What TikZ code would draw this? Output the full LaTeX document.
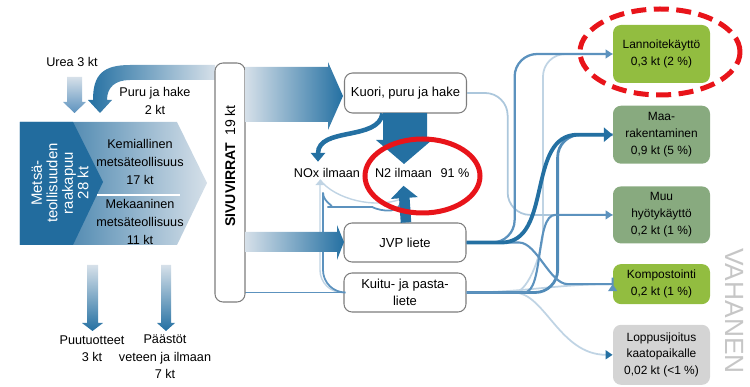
\documentclass[tikz,border=0pt]{standalone}
\usepackage{fontspec}
\setmainfont{Liberation Sans}
\usetikzlibrary{arrows.meta}
\usetikzlibrary{calc}
\usetikzlibrary{positioning}

\definecolor{flowdark}{RGB}{36,112,162}
\definecolor{flowmid}{RGB}{92,146,190}
\definecolor{flowlight}{RGB}{214,224,233}
\definecolor{flowpale}{RGB}{192,212,228}
\definecolor{rawblue}{RGB}{34,108,158}
\definecolor{boxline}{RGB}{125,125,125}
\definecolor{greenlight}{RGB}{146,189,64}
\definecolor{greendark}{RGB}{136,170,127}
\definecolor{boxgray}{RGB}{212,212,212}
\definecolor{markred}{RGB}{232,20,26}

\begin{document}
\begin{tikzpicture}[
    txt/.style={font=\fontsize{7.2}{10}\selectfont, align=center, inner sep=1pt},
    midbox/.style={draw=boxline, line width=0.6pt, rounded corners=0.16cm, fill=white,
        minimum width=2.44cm, minimum height=0.78cm, align=center, font=\fontsize{7.4}{10}\selectfont},
    endbox/.style={rounded corners=0.16cm, minimum width=1.94cm, align=center,
        font=\fontsize{6.8}{9.6}\selectfont, inner sep=1pt},
    thinflow/.style={line width=1pt, rounded corners=0.45cm},
    endtip/.style={-{Triangle[width=5pt,length=4pt]}},
]
    \useasboundingbox (0,0) rectangle (15,-7.74);

    % Middle and right boxes first (flows are drawn behind them)
    \node[midbox, minimum height=0.8cm] (kuori) at (8.11,-1.86) {Kuori, puru ja hake};
    \node[midbox] (jvp) at (8.1,-4.85) {JVP liete};
    \node[midbox] (kuitu) at (8.1,-5.85) {Kuitu- ja pasta-\\liete};

    \node[endbox, fill=greenlight, minimum height=1.16cm] (lannoite) at (13.23,-1.08) {Lannoitekäyttö\\0,3 kt (2 \%)};
    \node[endbox, fill=greendark, minimum height=1.16cm, below=0.44cm of lannoite] (maa) {Maa-\\rakentaminen\\0,9 kt (5 \%)};
    \node[endbox, fill=greendark, minimum height=1.14cm, below=0.44cm of maa] (muu) {Muu\\hyötykäyttö\\0,2 kt (1 \%)};
    \node[endbox, fill=greenlight, minimum height=0.8cm, below=0.4cm of muu] (kompost) {Kompostointi\\0,2 kt (1 \%)};
    \node[endbox, fill=boxgray, minimum height=1.2cm, below=0.4cm of kompost] (loppu) {Loppusijoitus\\kaatopaikalle\\0,02 kt (<1 \%)};

    \node[txt] (nox) at (6.54,-3.46) {NOx ilmaan};
    \node[txt] (ntwo) at (8.07,-3.46) {N2 ilmaan};
    \node[txt] (share) at (9.1,-3.46) {91 \%};
    \coordinate (ntwoin) at (8.02,-3.98);

    % Thin flows to the end uses
    \draw[thinflow, flowpale] (kuitu.east) -- ++(0.5,0) to[out=0,in=-90] (10.86,-4.2) |- (lannoite.west);
    \draw[thinflow, flowpale] (kuitu.east) to[out=0,in=180] (kompost.west);
    \draw[thinflow, flowpale, -{Triangle[width=5pt,length=4pt,color=flowdark]}] (kuitu.east) -- ++(0.5,0) to[out=0,in=180] (loppu.west);
    \draw[thinflow, flowpale!80!flowmid] (kuori.east) -| ([xshift=-2.1cm]muu.west) -- (muu.west);
    \draw[thinflow, flowmid, line width=1.3pt, endtip] (jvp.east) -| ([xshift=-1.96cm]lannoite.west) -- (lannoite.west);
    \draw[thinflow, flowmid!80!flowdark, line width=1.6pt] (kuitu.east) -| ([xshift=-1.1cm]maa.west) -- (maa.west);
    \draw[thinflow, flowmid, line width=1.2pt, endtip] (kuitu.east) -- ++(0.7,0) to[out=0,in=180] ([xshift=-0.7cm]muu.west) -- (muu.west);
    \draw[thinflow, flowmid, line width=1.2pt, endtip] (jvp.east) -- ++(0.6,0) to[out=0,in=180] ([xshift=-0.45cm]kompost.west) -- (kompost.west);
    \draw[flowdark, line width=2.2pt, -{Triangle[width=8pt,length=5pt]}] (jvp.east) -- ++(0.7,0) to[out=0,in=180] ([xshift=-0.7cm]maa.west) -- (maa.west);

    % Thin flows back to the air
    \draw[thinflow, flowpale, line width=0.8pt, -{Triangle[width=5pt,length=3pt]}] (kuitu.west) -| ([xshift=-0.14cm]nox.south);
    \draw[flowpale, line width=0.8pt] (ntwoin) .. controls +(-0.5,-0.2) and +(0.3,-0.4) .. ([xshift=-0.14cm]nox.south);
    \draw[thinflow, flowmid, line width=1pt] (kuitu.west) -| (6.46,-4.3) to[out=90,in=180] (7.0,-4.14) to[out=0,in=-90] (ntwoin);
    \draw[flowmid, line width=1pt] (4.9,-5.85) -- (kuitu.west);

    % Raw wood chevron
    \shade[left color=rawblue, right color=flowlight] (0.4,-2.44) -- (3.54,-2.44) -- (4.14,-3.66) -- (3.54,-4.9) -- (0.4,-4.9) -- cycle;
    \fill[rawblue] (0.4,-2.44) -- (1.46,-2.44) -- (2.06,-3.64) -- (1.46,-4.9) -- (0.4,-4.9) -- cycle;
    \draw[white, line width=1pt] (1.94,-3.9) -- (3.6,-3.9);
    \node[txt, white, rotate=90, font=\fontsize{8.5}{8.8}\selectfont] (raw) at (1.2,-3.66) {Metsä-\\teollisuuden\\raakapuu\\28 kt};
    \node[txt] (chem) at (2.8,-3.24) {Kemiallinen\\metsäteollisuus\\17 kt};
    \node[txt] (mech) at (2.8,-4.44) {Mekaaninen\\metsäteollisuus\\11 kt};

    % Inputs: urea and recycled bark
    \node[txt] (urea) at (1.44,-1.24) {Urea 3 kt};
    \shade[top color=flowlight, bottom color=flowmid] (1.34,-1.54) -- (1.64,-1.54) -- (1.64,-2.04) -- (1.72,-2.04) -- (1.49,-2.26) -- (1.26,-2.04) -- (1.34,-2.04) -- cycle;
    \shade[left color=flowdark, right color=flowlight] (4.3,-1.3) -- (2.6,-1.3) .. controls (2.05,-1.3) and (1.86,-1.5) .. (1.86,-2.0) -- (1.76,-2.0) -- (2.0,-2.26) -- (2.24,-2.0) -- (2.14,-2.0) .. controls (2.14,-1.75) and (2.3,-1.6) .. (2.6,-1.6) -- (4.3,-1.6) -- cycle;
    \node[txt] (puru) at (3.1,-2.02) {Puru ja hake\\2 kt};

    % Outputs of the mills
    \shade[top color=flowlight, bottom color=flowdark] (1.74,-5.3) -- (1.96,-5.3) -- (1.96,-6.46) -- (2.06,-6.46) -- (1.85,-6.62) -- (1.64,-6.46) -- (1.74,-6.46) -- cycle;
    \shade[top color=flowlight, bottom color=flowdark] (3.22,-5.3) -- (3.42,-5.3) -- (3.42,-6.46) -- (3.5,-6.46) -- (3.32,-6.62) -- (3.14,-6.46) -- (3.22,-6.46) -- cycle;
    \node[txt] (wood) at (1.84,-6.97) {Puutuotteet\\3 kt};
    \node[txt] (emis) at (3.3,-7.14) {Päästöt\\veteen ja ilmaan\\7 kt};

    % Side streams
    \node[draw=boxline, line width=0.6pt, rounded corners=0.16cm, fill=white, minimum width=0.6cm, minimum height=4.78cm] (side) at (4.6,-3.65) {};
    \node[rotate=90, font=\fontsize{8}{8}\selectfont] (sidelabel) at (4.6,-3.32) {\textbf{SIVUVIRRAT}\enspace 19 kt};
    \shade[left color=flowlight, right color=flowdark] (4.9,-1.34) -- (6.56,-1.34) -- (6.56,-1.24) -- (6.86,-1.92) -- (6.56,-2.6) -- (6.56,-2.44) -- (4.9,-2.44) -- cycle;
    \shade[left color=flowlight, right color=flowdark] (4.9,-4.64) -- (6.74,-4.64) -- (6.74,-4.5) -- (6.88,-4.84) -- (6.74,-5.2) -- (6.74,-5.04) -- (4.9,-5.04) -- cycle;

    % Nitrogen to the air
    \fill[flowdark] (7.66,-2.26) -- (8.54,-2.26) -- (8.54,-2.8) -- (8.64,-2.8) -- (8.08,-3.28) -- (7.52,-2.8) -- (7.66,-2.8) -- cycle;
    \draw[flowdark, line width=2.6pt, -{Triangle[width=8pt,length=5pt]}] ([xshift=-0.46cm]kuori.south) .. controls +(-0.08,-0.55) and +(0,0.7) .. ([xshift=-0.18cm,yshift=0.09cm]nox.north);
    \draw[flowdark, line width=6pt, -{Triangle[width=15pt,length=7pt]}] ([xshift=0.02cm]jvp.north) -- ([yshift=-0.12cm]ntwo.south);

    % Highlights
    \draw[markred, line width=1mm] (8.45,-3.52) ellipse (1.15 and 0.74);
    \draw[markred, line width=1mm, dash pattern=on 3mm off 1.5mm] (13.2,-1.04) ellipse (1.6 and 0.86);

    \node[rotate=-90, text=gray!45, font=\fontsize{15}{15}\selectfont] (brand) at (14.7,-6.22) {VAHANEN};
\end{tikzpicture}
\end{document}
